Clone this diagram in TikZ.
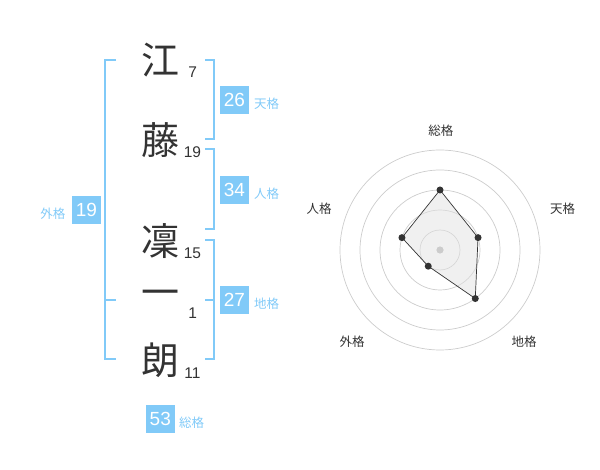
\documentclass[tikz,border=0pt]{standalone}
\usepackage{fontspec}
\setmainfont{Liberation Sans}
\newfontfamily\jp{Noto Sans CJK JP}
\definecolor{kblue}{RGB}{129,202,248}
\definecolor{kdark}{RGB}{51,51,51}
\definecolor{kring}{RGB}{204,204,204}
\definecolor{kfill}{RGB}{226,226,226}
\tikzset{
  kanji/.style={inner sep=0pt, text=kdark, font=\jp\fontsize{38}{38}\selectfont},
  strokes/.style={inner sep=0pt, text=kdark, font=\fontsize{15.5}{15.5}\selectfont},
  valbox/.style={fill=kblue, minimum width=28.5pt, minimum height=28.5pt, inner sep=0pt, text=white, font=\fontsize{19}{19}\selectfont},
  vallabel/.style={inner sep=0pt, text=kblue, font=\jp\fontsize{12.5}{12.5}\selectfont},
  brk/.style={draw=kblue, line width=2pt},
  ring/.style={draw=kring, line width=0.7pt},
  axislabel/.style={inner sep=0pt, text=kdark, font=\jp\fontsize{12.5}{12.5}\selectfont},
  dot/.style={circle, fill=kdark, inner sep=0pt, minimum size=7pt},
}
\begin{document}
\begin{tikzpicture}[x=1pt, y=-1pt]
\useasboundingbox (0,0) rectangle (600,470);
% characters
\node[kanji] (c1) at (160,60) {江};
\node[kanji] (c2) at (160,140.5) {藤};
\node[kanji] (c3) at (160,241) {凜};
\node[kanji] (c4) at (160,298) {一};
\node[kanji] (c5) at (160,360.5) {朗};
% stroke counts
\node[strokes] (n1) at (192.8,72.5) {7};
\node[strokes] (n2) at (192.5,152.5) {19};
\node[strokes] (n3) at (192.5,253) {15};
\node[strokes] (n4) at (192.8,312.7) {1};
\node[strokes] (n5) at (192.5,372.7) {11};
% brackets
\draw[brk] (116,60) -- (105,60) -- (105,359) -- (116,359);
\draw[brk] (105,300) -- (116,300);
\draw[brk] (205,60) -- (214,60) -- (214,139) -- (205,139);
\draw[brk] (205,149) -- (214,149) -- (214,229) -- (205,229);
\draw[brk] (205,240) -- (214,240) -- (214,359) -- (205,359);
\draw[brk] (205,300) -- (214,300);
% value boxes
\node[valbox] (ten) at (234.5,100) {26};
\node[vallabel, anchor=west] (tenl) at (254,104) {天格};
\node[valbox] (jin) at (234.5,190) {34};
\node[vallabel, anchor=west] (jinl) at (254,194) {人格};
\node[valbox] (chi) at (234.5,300) {27};
\node[vallabel, anchor=west] (chil) at (254,303.5) {地格};
\node[valbox] (gai) at (86.5,210) {19};
\node[vallabel, anchor=east] (gail) at (65.5,214) {外格};
\node[valbox] (sou) at (160.3,419) {53};
\node[vallabel, anchor=west] (soul) at (179,422.5) {総格};
% radar chart
\begin{scope}[shift={(440,250)}, yscale=-1]
  \foreach \r in {20,40,60,80,100} \draw[ring] (0,0) circle[radius=\r];
  \coordinate (pS) at (90:60);
  \coordinate (pT) at (18:40);
  \coordinate (pC) at (-54:60);
  \coordinate (pG) at (-126:20);
  \coordinate (pJ) at (162:40);
  \fill[kfill, fill opacity=0.5] (pS) -- (pT) -- (pC) -- (pG) -- (pJ) -- cycle;
  \fill[kring] (0,0) circle[radius=3.6];
  \draw[kdark, line width=0.7pt] (pS) -- (pT) -- (pC) -- (pG) -- (pJ) -- cycle;
  \foreach \p in {pS,pT,pC,pG,pJ} \node[dot] at (\p) {};
\end{scope}
\node[axislabel] (lS) at (440.8,130.5) {総格};
\node[axislabel] (lT) at (562.5,208.5) {天格};
\node[axislabel] (lC) at (524,341.7) {地格};
\node[axislabel] (lG) at (352,341.7) {外格};
\node[axislabel] (lJ) at (319,208.5) {人格};
\end{tikzpicture}
\end{document}
